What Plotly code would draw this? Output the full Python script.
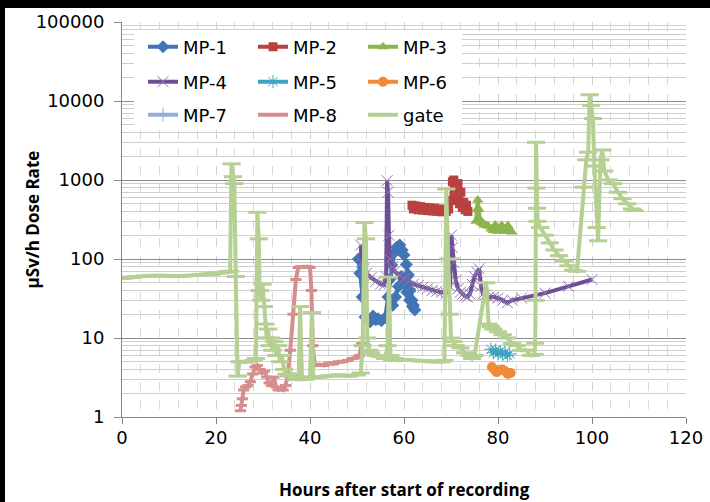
import plotly.graph_objects as go

# ---------------- data ----------------
mp1_h = [50.3, 50.6, 51.1, 51.7, 52.3, 52.8, 53.4, 54.0, 54.5, 55.2, 56.0, 56.6, 57.0, 57.4, 57.9,
         58.5, 59.1, 59.6, 60.0, 60.5, 60.9, 61.3, 61.7, 62.0, 62.3, 61.8, 61.2, 60.6, 60.0, 59.4, 58.8, 58.2, 57.6]
mp1_v = [100, 66, 33, 18.5, 17, 16, 19, 17, 17.5, 16.5, 18, 33, 55, 84, 120,
         142, 150, 130, 112, 85, 63, 40, 30, 26, 22.6, 25, 30, 38, 48, 60, 45, 33, 26]

mp2_h = [61.7, 62.0, 62.5, 63.0, 63.5, 64.0, 64.5, 65.0, 65.5, 66.0, 66.5, 67.0, 67.5, 68.0, 68.5,
         69.0, 69.5, 70.0, 70.3, 70.6, 70.9, 71.2, 71.5, 71.8, 72.1, 72.4, 72.7, 73.0, 73.3, 73.6]
mp2_v = [480, 430, 470, 420, 460, 415, 450, 410, 445, 405, 440, 400, 430, 395, 420,
         400, 430, 550, 950, 1000, 800, 600, 900, 500, 700, 450, 520, 420, 480, 400]

mp3_h = [75.3, 75.5, 75.7, 75.9, 76.1, 76.4, 76.8, 77.2, 77.6, 78.0, 78.5, 79.0, 79.4, 79.8,
         80.3, 80.8, 81.3, 81.8, 82.1, 82.5, 83.0]
mp3_v = [300, 420, 560, 430, 320, 290, 280, 270, 265, 260, 240, 230, 270, 225,
         230, 265, 225, 230, 265, 225, 220]

mp4_h = [50.8, 51.0, 51.5, 52.0, 53.0, 54.0, 55.0, 55.8, 56.2, 56.4, 56.6, 56.8, 57.0, 57.5,
         58.0, 59.0, 60.0, 61.0, 62.0, 63.0, 64.0, 65.0, 66.0, 67.0, 68.0, 69.0, 69.8, 70.1,
         70.3, 70.6, 71.0, 71.5, 72.0, 72.5, 73.0, 73.5, 74.0, 74.5, 75.0, 75.5, 76.0, 76.4,
         76.8, 77.2, 78.0, 79.0, 80.0, 81.0, 82.0, 83.0, 85.0, 90.0, 95.0, 100.0]
mp4_v = [150, 90, 75, 66, 58, 52, 48, 47, 60, 980, 700, 200, 100, 80,
         70, 62, 56, 52, 48, 46, 44, 42, 40, 39, 38, 37, 45, 200,
         140, 90, 54, 42, 38, 36, 34, 33, 36, 48, 60, 68, 75, 45,
         36, 35, 33, 33, 32, 30, 28, 30, 32, 37, 45, 55]

mp5_h = [78.5, 79.0, 79.5, 80.0, 80.5, 81.0, 81.5, 82.0, 82.5]
mp5_v = [7.2, 6.5, 7.0, 6.3, 6.8, 6.2, 6.6, 6.0, 6.3]

mp6_h = [78.7, 79.2, 79.7, 80.3, 80.9, 81.5, 82.1, 82.7]
mp6_v = [4.3, 4.0, 3.7, 3.9, 4.0, 3.8, 3.5, 3.6]

# MP-7 has no visible readings in the chart (only its legend entry)
mp7_h = [None]
mp7_v = [None]

mp8_h = [25.2, 25.4, 25.6, 25.9, 26.3, 26.8, 27.3, 27.8, 28.3, 28.8, 29.3, 29.8, 30.3, 30.8,
         31.3, 31.8, 32.3, 32.8, 33.3, 33.8, 34.3, 34.8, 35.3, 35.8, 36.4, 37.0, 37.5, 38.0,
         38.5, 39.0, 39.5, 40.0, 40.3, 40.6, 41.0, 42.0, 43.0, 44.0, 45.0, 46.0, 47.0, 48.0,
         49.0, 50.0, 50.5, 51.0]
mp8_v = [1.2, 1.4, 1.7, 2.2, 2.4, 2.5, 2.8, 3.5, 4.3, 4.5, 4.0, 3.6, 3.8, 3.2,
         2.7, 2.5, 3.2, 2.4, 2.2, 2.3, 2.2, 2.5, 3.5, 7, 20, 55, 78, 80,
         80, 79, 80, 78, 40, 8, 4.5, 4.6, 4.5, 4.8, 4.7, 5.0, 5.0, 5.2,
         5.5, 5.6, 6.0, 8.5]

gate_h = [0, 1, 2, 3, 5, 7, 9, 11, 13, 15, 17, 19, 20, 21, 22, 22.5, 23.0, 23.3, 23.6, 23.9,
          24.2, 24.6, 25, 26, 27, 28, 28.5, 28.8, 29.1, 29.3, 29.6, 29.9, 30.2, 30.5, 30.8, 31.1,
          31.4, 31.7, 32.0, 32.4, 32.8, 33.2, 33.6, 34.0, 34.5, 35.0, 35.5, 36.0, 37.0, 37.6,
          37.9, 38.3, 39.0, 40.0, 40.4, 40.7, 42, 44, 46, 48, 50, 50.8, 51.2, 51.6, 51.9, 52.2,
          52.6, 53, 54, 55, 56, 56.5, 56.8, 57.1, 57.5, 58, 59, 60, 62, 64, 66, 67, 68, 68.6,
          69.0, 69.4, 69.7, 70, 70.5, 71, 72, 73, 74, 74.5, 75, 77.5, 78, 78.5, 79, 80, 81, 82,
          83, 84, 85, 86, 87, 87.8, 87.9, 88.0, 88.1, 88.2, 88.3, 88.4, 89, 90, 91, 92, 93, 94,
          95, 96, 96.8, 98.2, 98.8, 99.2, 99.5, 99.8, 100.2, 100.5, 101.0, 101.3, 101.8, 102.2,
          102.6, 103.5, 104.5, 105.5, 106.5, 107.5, 108.5, 109.0]
gate_v = [57, 58, 59, 60, 61, 62, 61, 61, 61, 62, 63, 64, 66, 67, 68, 69, 70, 1600, 1100, 900,
          60, 3.3, 5, 5, 5, 5.2, 5.5, 390, 180, 40, 30, 48, 25, 15, 10, 13,
          8, 10, 7, 9, 6, 8, 5, 6, 4, 3.5, 3.3, 3.5, 3.0, 3.0,
          25, 3.0, 3.0, 3.2, 21, 3.2, 3.2, 3.3, 3.4, 3.3, 3.4, 3.6, 8, 290, 180, 10,
          7, 6.5, 6, 5.8, 5.5, 8, 59, 6, 5.3, 5.5, 5.2, 5.3, 5.2, 5.1, 5, 5, 5, 5.2,
          770, 100, 20, 10, 9, 8, 7.5, 6.5, 6, 5.5, 6, 50, 15, 14, 13, 12, 11, 10,
          8.5, 8, 7, 7, 6, 6.2, 8.6, 30, 3000, 790, 440, 300, 250, 200, 160, 130, 110, 95,
          82, 72, 70, 810, 1800, 2250, 12000, 8800, 6000, 1500, 250, 170, 1800, 2400,
          1300, 1000, 900, 700, 580, 500, 430, 410]

y_tickvals = [1, 10, 100, 1000, 10000, 100000]
y_ticktext = ["1", "10", "100", "1000", "10000", "100000"]
x_tickvals = [0, 20, 40, 60, 80, 100, 120]
x_ticktext = ["0", "20", "40", "60", "80", "100", "120"]

x_title = "Hours after start of recording"
y_title = "µSv/h Dose Rate"

# ---------------- figure ----------------
W, H = 710, 502
L, R, T, B = 122, 24, 22, 85
PW, PH = W - L - R, H - T - B


def px(x):
    return (x - L) / PW


def py(y):
    return (H - B - y) / PH


series = [
    ("MP-1", mp1_h, mp1_v, "#4175B5", dict(symbol="diamond", size=10), "legend"),
    ("MP-2", mp2_h, mp2_v, "#B8423F", dict(symbol="square", size=9), "legend"),
    ("MP-3", mp3_h, mp3_v, "#8DB34C", dict(symbol="triangle-up", size=10), "legend"),
    ("MP-4", mp4_h, mp4_v, "#6E4F96", dict(symbol="x-thin", size=11,
                                           line=dict(width=1, color="#8E74B2")), "legend2"),
    ("MP-5", mp5_h, mp5_v, "#3EA4C2", dict(symbol="asterisk", size=11,
                                           line=dict(width=1, color="#3EA4C2")), "legend2"),
    ("MP-6", mp6_h, mp6_v, "#EE8A3A", dict(symbol="circle", size=10), "legend2"),
    ("MP-7", mp7_h, mp7_v, "#93AED4", dict(symbol="line-ns", size=10,
                                           line=dict(width=1, color="#93AED4")), "legend3"),
    ("MP-8", mp8_h, mp8_v, "#D58E8C", dict(symbol="line-ew", size=8,
                                           line=dict(width=3, color="#D58E8C")), "legend3"),
    ("gate", gate_h, gate_v, "#B6CF92", dict(symbol="line-ew", size=13,
                                            line=dict(width=3, color="#B6CF92")), "legend3"),
]

fig = go.Figure()
for name, xs, ys, col, mk, lg in series:
    mk = dict(mk)
    mk.setdefault("color", col)
    fig.add_trace(go.Scatter(x=xs, y=ys, name=name, mode="lines+markers",
                             line=dict(color=col, width=4), marker=mk,
                             legend=lg, showlegend=True))

tick_font = "DejaVu Sans"
title_font = "Open Sans"
legend_common = dict(orientation="h", bgcolor="rgba(0,0,0,0)", borderwidth=0,
                     font=dict(family=tick_font, size=18, color="#000"),
                     entrywidth=65, entrywidthmode="pixels", xanchor="left",
                     yanchor="middle", x=px(143), itemclick=False)

fig.update_layout(
    width=W, height=H,
    margin=dict(l=L, r=R, t=T, b=B, pad=0, autoexpand=False),
    paper_bgcolor="#000000",
    plot_bgcolor="#FFFFFF",
    font=dict(family=tick_font, size=18, color="#000"),
    legend=dict(legend_common, y=py(47)),
    legend2=dict(legend_common, y=py(82)),
    legend3=dict(legend_common, y=py(115)),
    xaxis=dict(range=[0, 120], tickvals=x_tickvals, ticktext=x_ticktext,
               ticks="outside", ticklen=6, tickcolor="#868686",
               showline=True, linecolor="#868686", linewidth=1,
               showgrid=True, gridcolor="#D0D0D0", griddash="dash", gridwidth=1,
               minor=dict(dtick=4, showgrid=True, gridcolor="#D9D9D9", griddash="dash"),
               zeroline=False, ticklabelstandoff=-2, automargin=False),
    yaxis=dict(type="log", range=[0, 5], tickvals=y_tickvals, ticktext=y_ticktext,
               ticks="outside", ticklen=7, tickcolor="#868686",
               showline=True, linecolor="#868686", linewidth=1,
               showgrid=True, gridcolor="#8C8C8C", gridwidth=1,
               minor=dict(tickvals=[m * d for d in [1, 10, 100, 1000, 10000] for m in range(2, 10)],
                          showgrid=True, gridcolor="#CFCFCF", ticks=""),
               zeroline=False, ticklabelstandoff=6, automargin=False),
    annotations=[
        dict(text="<b>" + y_title + "</b>", xref="paper", yref="paper",
             x=px(32), y=0.5, xanchor="center", yanchor="middle", textangle=-90,
             showarrow=False, font=dict(family=title_font, size=17, color="#000")),
        dict(text="<b>" + x_title + "</b>", xref="paper", yref="paper",
             x=px(404), y=py(489), xanchor="center", yanchor="middle",
             showarrow=False, font=dict(family=title_font, size=17, color="#000")),
    ],
    shapes=[
        dict(type="rect", xref="paper", yref="paper", layer="below",
             x0=px(5), x1=px(W), y0=py(8), y1=py(W), fillcolor="#FFFFFF",
             line=dict(width=0)),
        dict(type="rect", xref="paper", yref="paper", layer="above",
             x0=px(134), x1=px(462), y0=py(130), y1=py(30), fillcolor="#FFFFFF",
             line=dict(width=0)),
    ],
)

fig.write_html("out.html", config={"displayModeBar": False},
               post_script="document.body.style.margin='0';"
                           "document.body.style.background='#000';")
